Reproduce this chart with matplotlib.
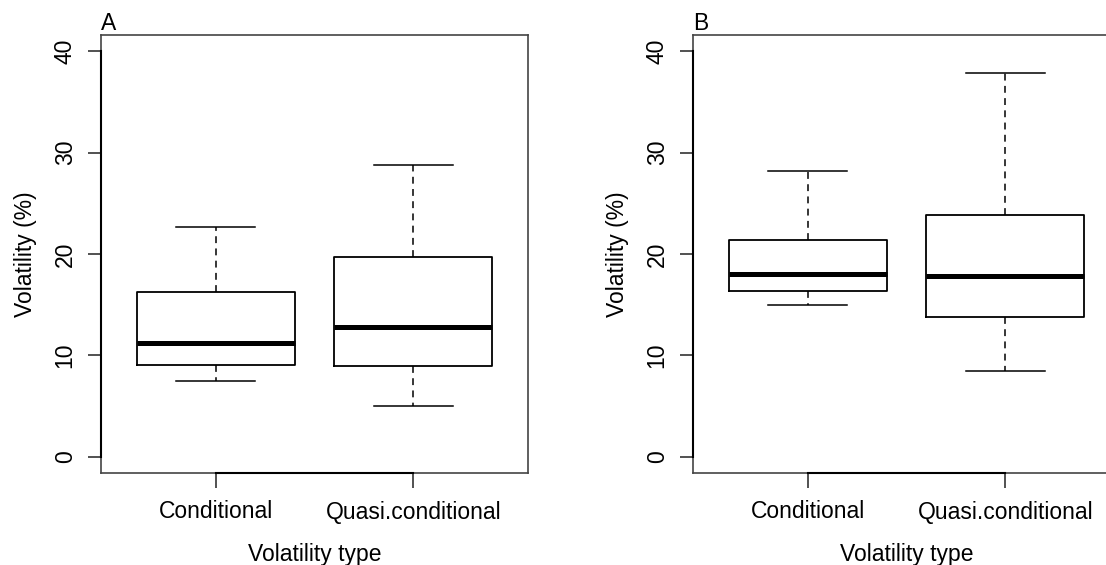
import matplotlib
matplotlib.use("Agg")
import matplotlib.pyplot as plt

plt.rcParams['font.family'] = ['Liberation Sans', 'DejaVu Sans']

categories = ["Conditional", "Quasi.conditional"]
panel_labels = ["A", "B"]

# Five-number summaries per panel: [Conditional, Quasi.conditional]
whisker_low = [[7.5, 5.0], [15.0, 8.5]]
q1 = [[9.1, 9.0], [16.4, 13.8]]
median = [[11.2, 12.8], [18.0, 17.8]]
q3 = [[16.3, 19.7], [21.4, 23.8]]
whisker_high = [[22.7, 28.8], [28.2, 37.9]]

y_ticks = [0, 10, 20, 30, 40]
y_label = "Volatility (%)"
x_label = "Volatility type"

W, H = 1106, 565
fig = plt.figure(figsize=(W / 100, H / 100), dpi=100)

axes_boxes = [
    (101 / W, 1 - 473 / H, 427 / W, 438 / H),
    (693 / W, 1 - 473 / H, 427 / W, 438 / H),
]

FS = 16.5
for p, rect in enumerate(axes_boxes):
    ax = fig.add_axes(rect)
    stats = []
    for i, cat in enumerate(categories):
        stats.append(dict(label=cat, whislo=whisker_low[p][i], q1=q1[p][i],
                          med=median[p][i], q3=q3[p][i], whishi=whisker_high[p][i],
                          fliers=[]))
    ax.bxp(stats, positions=[1, 2], widths=0.8, showfliers=False,
           patch_artist=False,
           boxprops=dict(color='black', linewidth=1.3),
           medianprops=dict(color='black', linewidth=3.6, solid_capstyle='butt'),
           whiskerprops=dict(color='black', linewidth=1.1, linestyle=(0, (4.5, 3.5))),
           capprops=dict(color='black', linewidth=1.1),
           capwidths=0.4)

    ax.set_xlim(0.42, 2.58)
    ax.set_ylim(-1.6, 41.6)
    ax.set_yticks(y_ticks)
    ax.set_yticklabels([str(t) for t in y_ticks], rotation=90, va='center', fontsize=FS)
    ax.set_xticks([1, 2])
    ax.set_xticklabels(categories, fontsize=FS)
    ax.tick_params(axis='both', width=1.1, color='#222222')
    ax.tick_params(axis='y', length=9.5, pad=8)
    ax.tick_params(axis='x', length=10.8, pad=9)
    for s in ax.spines.values():
        s.set_linewidth(1.2)
        s.set_color('#444444')

    # axis lines spanning the tick range, drawn over the frame
    ax.plot([0.42, 0.42], [0, 40], color='black', lw=1.5, clip_on=False, zorder=5)
    ax.plot([1, 2], [-1.6, -1.6], color='black', lw=1.5, clip_on=False, zorder=5)

    ax.set_ylabel(y_label, fontsize=FS, labelpad=12)
    ax.set_xlabel(x_label, fontsize=FS, labelpad=14)
    ax.set_title(panel_labels[p], loc='left', fontsize=FS, pad=3)

fig.savefig("out.png", dpi=100)
